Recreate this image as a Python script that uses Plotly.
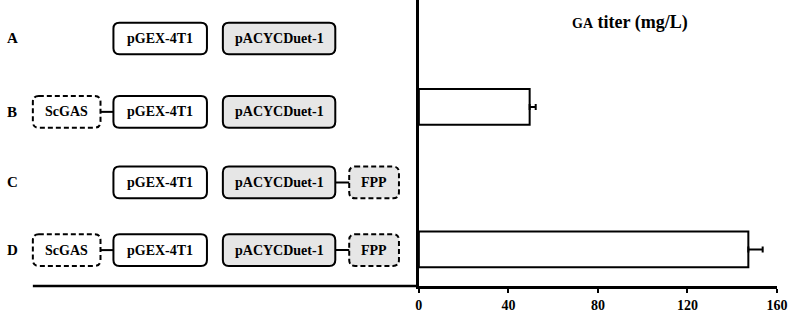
import plotly.graph_objects as go

# ---- data ----
categories = ["A", "B", "C", "D"]
ga_titer = [0, 49.5, 0, 147.2]          # mg/L
ga_error = [0, 2.7, 0, 6.4]
x_ticks = [0, 40, 80, 120, 160]

rows = [
    [None, "pGEX-4T1", "pACYCDuet-1", None],
    ["ScGAS", "pGEX-4T1", "pACYCDuet-1", None],
    [None, "pGEX-4T1", "pACYCDuet-1", "FPP"],
    ["ScGAS", "pGEX-4T1", "pACYCDuet-1", "FPP"],
]

# ---- layout constants (pixels / row units) ----
W, H = 789, 313
ML, MR, MT, MB = 0, 12, 0, 24
PW = W - ML - MR
PH = H - MT - MB
X0_PX = 417                      # pixel where x=0 lies
ROW_PX = 72
ypos = list(range(len(categories)))
row_offsets = [0.04, 1.07, 2.06, 3.01]
FONT = "Liberation Serif"
GREY = "#e6e6e6"

slots = [(29, 97, "dash", "white"), (110, 204, "solid", "white"),
         (220, 333, "solid", GREY), (347, 397, "dash", GREY)]
BOX_H = 32

fig = go.Figure()
fig.add_trace(go.Bar(
    y=ypos, x=[v if v > 0 else None for v in ga_titer], orientation="h", width=0.5,
    marker=dict(color="white", line=dict(color="black", width=2)),
    error_x=dict(type="data", symmetric=False,
                 array=[e if e > 0 else None for e in ga_error],
                 arrayminus=[0 if e > 0 else None for e in ga_error],
                 color="black", thickness=2, width=3),
    showlegend=False, hoverinfo="skip",
))


def rrect(x0, x1, yc, h_px, r=6):
    ry = r / ROW_PX
    hy = h_px / 2 / ROW_PX
    y0, y1 = yc - hy, yc + hy
    return (f"M {x0 + r},{y0} L {x1 - r},{y0} Q {x1},{y0} {x1},{y0 + ry} "
            f"L {x1},{y1 - ry} Q {x1},{y1} {x1 - r},{y1} L {x0 + r},{y1} "
            f"Q {x0},{y1} {x0},{y1 - ry} L {x0},{y0 + ry} Q {x0},{y0} {x0 + r},{y0} Z")


def bold(t):
    return f"<b>{t}</b>"


shapes = []
annotations = []
for i, row in enumerate(rows):
    yc = row_offsets[i]
    annotations.append(dict(x=8.5, y=yc, xref="x2", yref="y", text=bold(categories[i]),
                            xanchor="center", showarrow=False,
                            font=dict(family=FONT, size=15, color="black")))
    for j, label in enumerate(row):
        if label is None:
            continue
        x0, x1, dash, fill = slots[j]
        shapes.append(dict(type="path", xref="x2", yref="y", path=rrect(x0, x1, yc, BOX_H),
                           fillcolor=fill, line=dict(color="black", width=2,
                                                     dash="5px,3px" if dash == "dash" else "solid"),
                           layer="above"))
        annotations.append(dict(x=(x0 + x1) / 2, y=yc, xref="x2", yref="y", text=bold(label),
                                xanchor="center", showarrow=False,
                                font=dict(family=FONT, size=14, color="black")))
    if row[0] is not None:
        shapes.append(dict(type="line", xref="x2", yref="y", x0=slots[0][1], x1=slots[1][0],
                           y0=yc, y1=yc, line=dict(color="black", width=2)))
    if row[3] is not None:
        shapes.append(dict(type="line", xref="x2", yref="y", x0=slots[2][1], x1=slots[3][0],
                           y0=yc, y1=yc, line=dict(color="black", width=2)))

shapes.append(dict(type="line", xref="paper", yref="paper", x0=29 / PW, x1=X0_PX / PW,
                   y0=0, y1=0, line=dict(color="black", width=2.5)))

annotations.append(dict(x=629 / PW, y=1 - 23 / PH, xref="paper", yref="paper",
                        xanchor="center", yanchor="middle",
                        text="<b><span style='font-size:14px'>GA</span> titer (mg/L)</b>",
                        showarrow=False,
                        font=dict(family=FONT, size=18, color="black")))

top = -0.5
bottom = top + PH / ROW_PX

fig.update_layout(
    width=W, height=H,
    margin=dict(l=ML, r=MR, t=MT, b=MB, pad=0),
    plot_bgcolor="white", paper_bgcolor="white",
    xaxis=dict(domain=[X0_PX / PW, 1], range=[0, 160], tickvals=x_ticks,
               ticktext=[bold(v) for v in x_ticks],
               showline=True, linecolor="black", linewidth=2.5, ticks="outside",
               ticklen=4, tickwidth=2, tickcolor="black", showgrid=False, zeroline=False,
               tickfont=dict(family=FONT, size=14, color="black"),
               anchor="y"),
    xaxis2=dict(domain=[0, X0_PX / PW], range=[0, X0_PX], visible=False, anchor="y"),
    yaxis=dict(range=[bottom, top], showline=True, linecolor="black", linewidth=2.5,
               showticklabels=False, ticks="", showgrid=False, zeroline=False, anchor="x"),
    shapes=shapes, annotations=annotations,
)

fig.write_html("out.html")
